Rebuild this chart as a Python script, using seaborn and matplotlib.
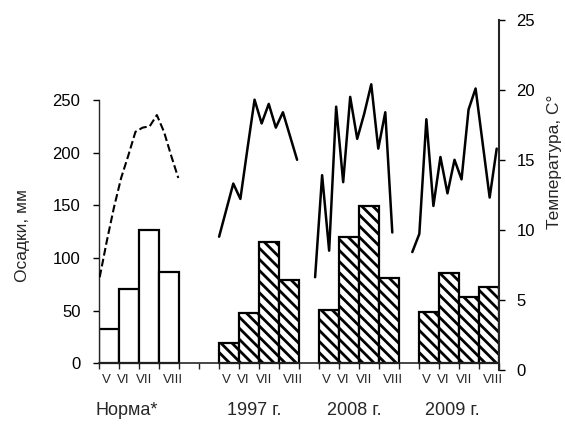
import matplotlib
matplotlib.use("Agg")
import matplotlib.pyplot as plt
import matplotlib.transforms as mtransforms
import seaborn as sns
import numpy as np
import pandas as pd

sns.set_style("ticks")
plt.rcParams['font.family'] = ['Liberation Sans', 'DejaVu Sans']
plt.rcParams['hatch.linewidth'] = 2.0
plt.rcParams['hatch.color'] = 'black'

# --- data ---
months = ["V", "VI", "VII", "VIII"]
groups = ["Норма*", "1997 г.", "2008 г.", "2009 г."]

# precipitation per month, mm
precip_norm = [33, 71, 127, 87]
precip_1997 = [19, 48, 115, 79]
precip_2008 = [51, 120, 149, 81]
precip_2009 = [49, 86, 63, 73]

# air temperature by decades, C
temp_norm = [6.6, 9.2, 11.6, 13.7, 15.3, 17.0, 17.3, 17.4, 18.2, 17.0, 15.3, 13.7]
temp_1997 = [9.5, 11.4, 13.3, 12.2, 15.8, 19.3, 17.6, 19.0, 17.3, 18.4, 16.7, 15.0]
temp_2008 = [6.6, 13.9, 8.5, 18.8, 13.4, 19.5, 16.5, 18.3, 20.4, 15.8, 18.4, 9.8]
temp_2009 = [8.4, 9.7, 17.9, 11.7, 15.2, 12.6, 15.0, 13.6, 18.6, 20.1, 16.2, 12.3, 15.8]

# --- layout (x in "bar slots") ---
group_start = [0, 6, 11, 16]
line_span = [(0.06, 3.99), (6.03, 9.93), (10.83, 14.69), (15.69, 19.91)]
group_label_x = [1.43, 7.8, 12.8, 17.7]
month_offset = [-0.1, -0.25, -0.2, 0.22]

precip = [precip_norm, precip_1997, precip_2008, precip_2009]
temps = [temp_norm, temp_1997, temp_2008, temp_2009]

rows = []
for g, start in enumerate(group_start):
    for i, val in enumerate(precip[g]):
        rows.append({"pos": start + i + 0.5, "precip": val, "group": groups[g]})
bars_df = pd.DataFrame(rows)

W, H = 565, 436
fig = plt.figure(figsize=(W / 100, H / 100), dpi=100)
left_px, right_px, top_px, bottom_px = 98.5, 498.5, 20, 369.5
ax = fig.add_axes([left_px / W, (H - bottom_px) / H,
                   (right_px - left_px) / W, (bottom_px - top_px) / H])

sns.barplot(data=bars_df, x="pos", y="precip", native_scale=True, width=1.0,
            color="white", edgecolor="black", linewidth=1.6, saturation=1,
            errorbar=None, ax=ax)
for p in ax.patches:
    if p.get_x() > 5:
        p.set_hatch("\\\\\\")

ax.set_xlim(0, 20)
ax.set_ylim(-5.7, 325.9)
ax.set_xticks(range(0, 21))
ax.set_yticks(range(0, 251, 50))
ax.set_xlabel("")
ax.set_ylabel("Осадки, мм", fontsize=12.5)
ax.yaxis.set_label_coords(-0.171, 0.382)
ax.spines["top"].set_visible(False)
ax.spines["right"].set_visible(False)
ax.spines["left"].set_bounds(0, 250)
ax.spines["bottom"].set_position(("data", 0))
ax.spines["left"].set_linewidth(1.0)
ax.spines["bottom"].set_linewidth(1.2)
ax.tick_params(axis="y", direction="out", length=4, width=1, pad=9, labelsize=12, colors="black")
ax.tick_params(axis="x", direction="out", length=4, width=1, labelbottom=False)

ax2 = ax.twinx()
for g in range(4):
    xs = np.linspace(line_span[g][0], line_span[g][1], len(temps[g]))
    sns.lineplot(x=xs, y=temps[g], ax=ax2, color="black",
                 linewidth=1.5 if g == 0 else 1.8,
                 linestyle="--" if g == 0 else "-", estimator=None, sort=False)
ax2.set_ylim(0, 25)
ax2.set_yticks(range(0, 26, 5))
ax2.set_ylabel("Температура, С°", fontsize=12.5, rotation=90)
ax2.yaxis.set_label_coords(1.121, 0.594)
for s in ["top", "left", "bottom"]:
    ax2.spines[s].set_visible(False)
ax2.spines["right"].set_bounds(0, 25)
ax2.spines["right"].set_linewidth(1.5)
ax2.tick_params(axis="y", direction="out", length=4, width=1, pad=9, labelsize=12, colors="black")

trans = mtransforms.blended_transform_factory(ax.transData, ax.transAxes)
for g, start in enumerate(group_start):
    for i, m in enumerate(months):
        ax.text(start + i + 0.5 + month_offset[i], -0.03, m, transform=trans,
                ha="center", va="center", fontsize=9.5)
    ax.text(group_label_x[g], -0.116, groups[g], transform=trans,
            ha="center", va="center", fontsize=13)

fig.savefig("out.png", dpi=100)
